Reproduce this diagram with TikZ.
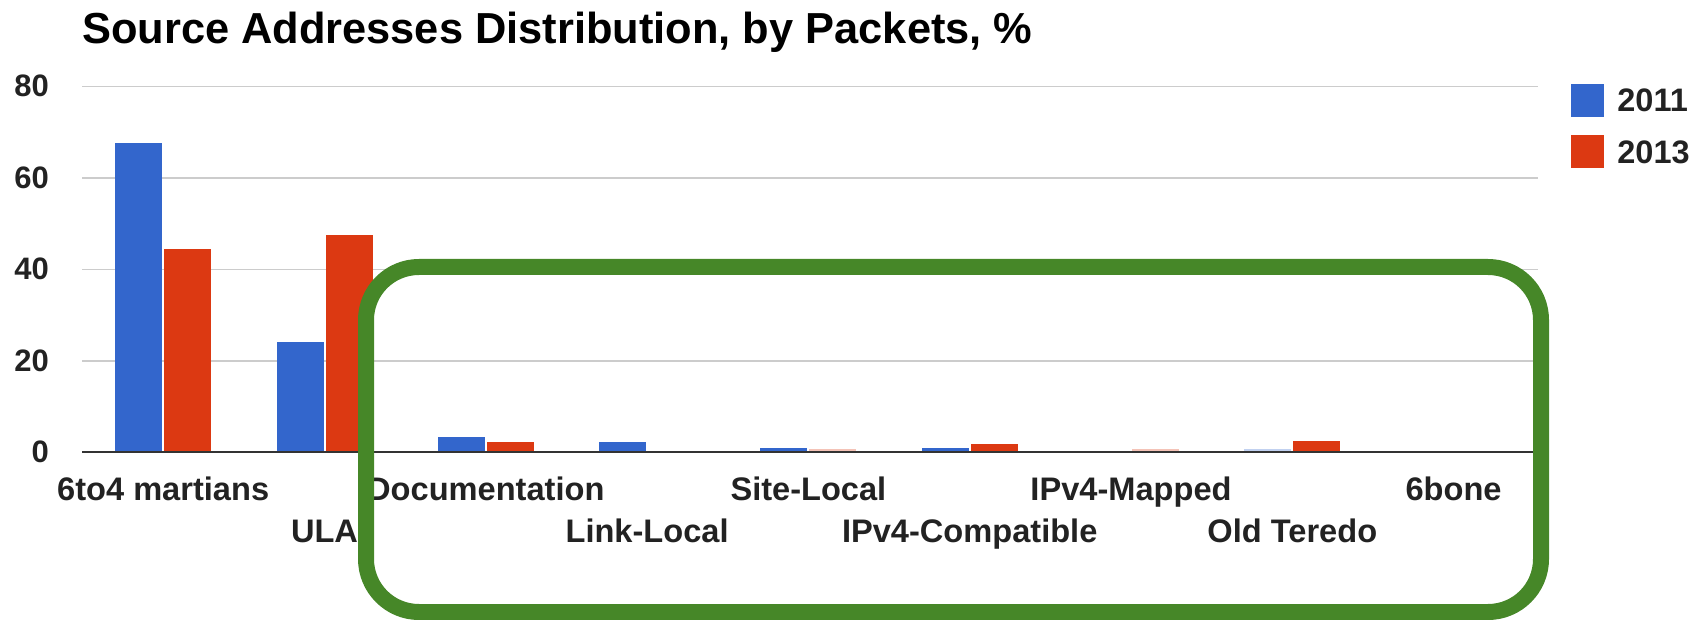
\documentclass[tikz,border=0pt]{standalone}
\usepackage{fontspec}
\setmainfont{Liberation Sans}
\usepackage{tikz}
\usetikzlibrary{positioning}
\definecolor{blue11}{HTML}{3366CC}
\definecolor{red13}{HTML}{DC3912}
\definecolor{gridgray}{HTML}{CCCCCC}
\definecolor{axisgray}{HTML}{333333}
\definecolor{labelgray}{HTML}{222222}
\definecolor{boxgreen}{RGB}{70,135,40}
\tikzstyle{bar a} = [fill=blue11]
\tikzstyle{bar b} = [fill=red13]
\tikzstyle{faint} = [opacity=0.3]
\tikzstyle{grid line} = [gridgray, line width=1.5pt]
\tikzstyle{tick} = [anchor=east, inner sep=0pt, text=labelgray, font=\fontsize{31}{37}\selectfont\bfseries]
\tikzstyle{category} = [anchor=base, inner sep=0pt, text=labelgray, font=\fontsize{32.6}{38}\selectfont\bfseries]
\tikzstyle{legend text} = [inner sep=0pt, text=labelgray, font=\fontsize{32.5}{38}\selectfont\bfseries]

\begin{document}
\begin{tikzpicture}[x=1pt, y=-1pt]
\useasboundingbox (0,0) rectangle (1705,620);

\node (title) [anchor=base west, inner sep=0pt, font=\fontsize{43.4}{50}\selectfont\bfseries] at (82,44) {Source Addresses Distribution, by Packets, \%};

\draw [grid line] (82,86.3) -- (1538,86.3);
\draw [grid line] (82,177.8) -- (1538,177.8);
\draw [grid line] (82,269.3) -- (1538,269.3);
\draw [grid line] (82,360.8) -- (1538,360.8);

\node (tick 80) [tick] at (49,86.3) {80};
\node (tick 60) [tick] at (49,177.8) {60};
\node (tick 40) [tick] at (49,269.3) {40};
\node (tick 20) [tick] at (49,360.8) {20};
\node (tick 0) [tick] at (49,452.3) {0};

\fill [bar a] (115.2,452.3) rectangle (162.2,143);
\fill [bar b] (164.2,452.3) rectangle (211.2,249.3);
\fill [bar a] (276.5,452.3) rectangle (323.5,342.3);
\fill [bar b] (325.5,452.3) rectangle (372.5,234.7);
\fill [bar a] (437.8,452.3) rectangle (484.8,437.3);
\fill [bar b] (486.8,452.3) rectangle (533.8,442.3);
\fill [bar a] (599.1,452.3) rectangle (646.1,442.3);
\fill [bar a] (760.4,452.3) rectangle (807.4,447.7);
\fill [bar b, faint] (809.4,452.3) rectangle (856.4,449);
\fill [bar a] (921.7,452.3) rectangle (968.7,448.3);
\fill [bar b] (970.7,452.3) rectangle (1017.7,444);
\fill [bar b, faint] (1132,452.3) rectangle (1179,449);
\fill [bar a, faint] (1244.3,452.3) rectangle (1291.3,449.3);
\fill [bar b] (1293.3,452.3) rectangle (1340.3,440.7);

\draw [axisgray, line width=2pt] (82,452.3) -- (1538,452.3);

\node (6to4 martians) [category] at (163.2,500) {6to4 martians};
\node (ula) [category] at (324.5,542) {ULA};
\node (documentation) [category] at (485.8,500) {Documentation};
\node (link local) [category] at (647.1,542) {Link-Local};
\node (site local) [category] at (808.4,500) {Site-Local};
\node (ipv4 compatible) [category] at (969.7,542) {IPv4-Compatible};
\node (ipv4 mapped) [category] at (1131,500) {IPv4-Mapped};
\node (old teredo) [category] at (1292.3,542) {Old Teredo};
\node (6bone) [category] at (1453.6,500) {6bone};

\node (key 2011) [bar a, minimum size=33pt, inner sep=0pt] at (1587.5,100.5) {};
\node (key 2013) [bar b, minimum size=33pt, inner sep=0pt] at (1587.5,152) {};
\node (label 2011) [legend text, right=13pt of key 2011] {2011};
\node (label 2013) [legend text, right=13pt of key 2013] {2013};

\draw [boxgreen, line width=16pt, rounded corners=53pt] (366,267) rectangle (1541,612);

\end{tikzpicture}
\end{document}
